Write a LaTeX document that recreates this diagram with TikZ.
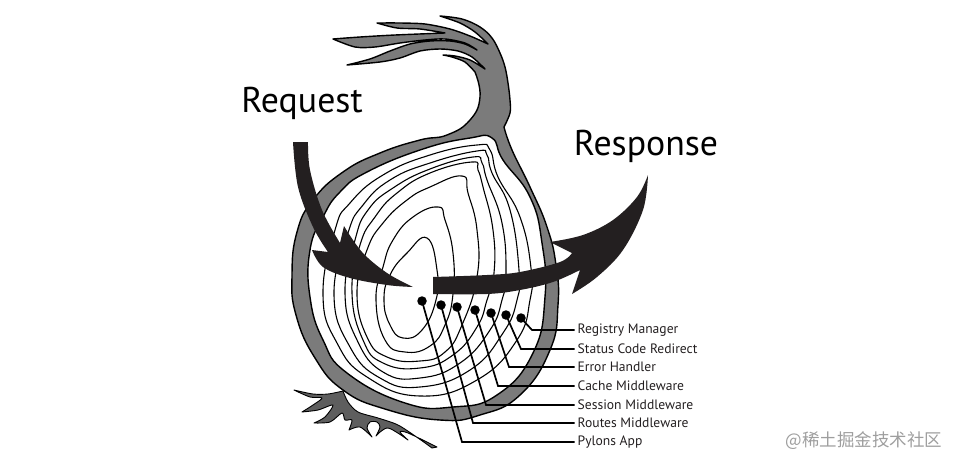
\documentclass[tikz,border=0pt]{standalone}
\usepackage{fontspec}
\setmainfont{PT Sans}
\newfontfamily\cjk{Noto Sans CJK SC}
\definecolor{skin}{HTML}{7B7B7B}
\definecolor{rootskin}{HTML}{5E5E5E}
\definecolor{ink}{HTML}{231F20}
\tikzset{
  outline/.style={draw=black,line width=1.4pt,line join=round},
  ring/.style={draw=black,line width=1.1pt},
  flow/.style={fill=ink,draw=none},
  leader/.style={draw=black,line width=1.7pt,line join=miter},
  dot/.style={circle,fill=black,inner sep=0pt,minimum size=9.5pt},
  lbl/.style={anchor=west,inner sep=0pt,font=\fontsize{13.6}{15}\selectfont,text=ink},
  big/.style={inner sep=0pt,font=\fontsize{35.8}{38}\selectfont,text=black},
}
\begin{document}
\begin{tikzpicture}[x=1pt,y=-1pt]
  \useasboundingbox (0,0) rectangle (959,466);
  % roots
  \draw[outline,fill=rootskin,line width=.9pt]
    plot[smooth,tension=.5] coordinates {(343,391)(328,394)(313,394)(294,390)}
    -- plot[smooth,tension=.5] coordinates {(294,390)(310,397)(322,398)(313,405)(302,412)}
    -- plot[smooth,tension=.5] coordinates {(302,412)(318,410)(333,405)(325,417)(314,423)}
    -- plot[smooth,tension=.5] coordinates {(314,423)(330,422)(342,413)(345,420)(352,420)(349,430)}
    -- plot[smooth,tension=.5] coordinates {(349,430)(360,427)(372,437)}
    -- plot[smooth,tension=.5] coordinates {(372,437)(367,428)(370,422)(377,422)(380,427)(376,436)}
    -- plot[smooth,tension=.5] coordinates {(376,436)(388,428)(408,440)}
    -- plot[smooth,tension=.5] coordinates {(408,440)(400,432)(408,433)(437,447)}
    -- (432,448)
    -- plot[smooth,tension=.5] coordinates {(432,448)(418,438)(398,425)(378,418)(358,412)(348,402)(343,391)}
    -- cycle;
  % skin with stem and tufts
  \draw[outline,fill=skin]
    plot[smooth,tension=.6] coordinates {(440,16)(462,19)(480,27)(492,38)(500,53)(505,67)(508,83)(510,100)(510,113)(504,127)}
    -- plot[smooth,tension=.8] coordinates {(504,127)(512,150)(530,187)(547,227)(556,265)(558,305)(550,350)(520,395)(480,415)(440,420)(385,409)(343,390)(315,358)(296,315)(292,275)(297,232)(313,200)(343,172)(380,153)(420,140)(447,135)(470,120)(480,97)(475,72)}
    -- plot[smooth,tension=.5] coordinates {(475,72)(465,62)(452,57)(443,55)}
    -- plot[smooth,tension=.5] coordinates {(443,55)(455,56)(470,60)(485,69)}
    -- plot[smooth,tension=.5] coordinates {(485,69)(472,57)(458,51)(440,49)(420,51)(400,58)(380,62)(347,65)}
    -- plot[smooth,tension=.5] coordinates {(347,65)(370,59)(390,51)(410,44)(430,41)(450,41)(465,44)(477,50)}
    -- plot[smooth,tension=.5] coordinates {(477,50)(465,43)(445,39)(425,40)(400,43)(375,47)(355,47)(333,39)}
    -- plot[smooth,tension=.5] coordinates {(333,39)(360,37)(395,35)(445,33)}
    -- plot[smooth,tension=.5] coordinates {(445,33)(420,29)(397,28)(377,23)}
    -- plot[smooth,tension=.5] coordinates {(377,23)(400,23)(425,24)(450,29)(470,36)(488,44)}
    -- plot[smooth,tension=.5] coordinates {(488,44)(475,32)(460,23)(440,16)}
    -- cycle;
  % flesh
  \draw[ring,fill=white,line width=1.4pt] plot[smooth cycle,tension=.8] coordinates {(492,138)(503,160)(530,197)(542,243)(545,297)(533,353)(497,395)(453,407)(405,403)(347,373)(323,340)(310,297)(310,250)(323,217)(340,192)(367,172)(423,149)(470,138)};
  % rings
  \draw[ring] plot[smooth cycle,tension=.8] coordinates {(490,150)(498,177)(520,217)(531,268)(530,300)(517,340)(477,380)(420,396)(367,377)(337,343)(323,295)(335,230)(350,203)(383,175)(430,155)(477,145)};
  \draw[ring] plot[smooth cycle,tension=.8] coordinates {(487,155)(492,173)(510,210)(519,270)(517,300)(503,333)(470,370)(420,387)(380,378)(350,347)(334,295)(348,233)(363,205)(390,180)(430,163)(477,151)};
  \draw[ring] plot[smooth cycle,tension=.8] coordinates {(482,163)(487,180)(502,223)(506,273)(502,300)(490,330)(460,363)(420,378)(383,372)(357,340)(345,293)(355,240)(368,210)(393,188)(430,169)(473,157)};
  \draw[ring] plot[smooth cycle,tension=.8] coordinates {(478,170)(483,187)(493,230)(494,273)(487,300)(477,327)(453,355)(420,368)(383,363)(363,340)(352,293)(360,245)(375,217)(397,193)(430,173)(472,162)};
  \draw[ring] plot[smooth cycle,tension=.8] coordinates {(468,193)(477,230)(477,277)(462,325)(445,352)(420,361)(387,357)(367,337)(357,293)(367,250)(383,223)(407,200)(430,187)(462,176)};
  \draw[ring] plot[smooth cycle,tension=.8] coordinates {(438,207)(445,220)(453,253)(453,294)(445,325)(430,346)(405,352)(385,340)(376,300)(383,267)(393,240)(413,217)};
  \draw[ring] plot[smooth cycle,tension=.8] coordinates {(427,238)(437,270)(436,300)(422,330)(403,338)(390,325)(384,300)(390,275)(407,253)};
  % request and response arrows
  \fill[flow] (293,142) -- (308,142)
    -- plot[smooth,tension=.6] coordinates {(308,142)(310,170)(322,210)(340,243)}
    -- (344,226)
    -- plot[smooth,tension=.6] coordinates {(344,226)(362,252)(387,273)(413,287)}
    -- plot[smooth,tension=.6] coordinates {(413,287)(387,285)(350,278)(323,267)(312,250)}
    -- (328,252)
    -- plot[smooth,tension=.6] coordinates {(328,252)(313,227)(298,187)(293,142)}
    -- cycle;
  \fill[flow] (433,277)
    -- plot[smooth,tension=.6] coordinates {(433,277)(487,275)(520,272)(560,262)(572,253)}
    -- (550,242)
    -- plot[smooth,tension=.6] coordinates {(550,242)(583,235)(613,220)(637,197)(648,175)}
    -- plot[smooth,tension=.6] coordinates {(648,175)(643,210)(623,250)(597,277)(572,294)}
    -- (580,270)
    -- plot[smooth,tension=.6] coordinates {(580,270)(553,282)(520,290)(487,294)(433,294)}
    -- cycle;
  \node[big] (request) at (302,103) {Request};
  \node[big] (response) at (646,146) {Response};
  % layer labels
  \foreach \i/\dx/\dy/\ex/\ey/\name in {
      a/422/301/462/442/Pylons App,
      b/441/305/473/423/Routes Middleware,
      c/457/307/486/405/Session Middleware,
      d/475/310/498/386/Cache Middleware,
      e/491/313/509/367/Error Handler,
      f/506/315/521/349/Status Code Redirect,
      g/521/318/532/330/Registry Manager}{
    \node[dot] (dot\i) at (\dx,\dy) {};
    \coordinate (bend\i) at (\ex,\ey);
    \node[lbl] (layer\i) at (577.5,\ey) {\name};
    \draw[leader] (dot\i.center) -- (bend\i) -- ([xshift=-3pt]bend\i -| layer\i.west);
  }
  \node[font=\cjk\fontsize{17.5}{20}\selectfont,text=black!38,inner sep=0pt] (mark) at (864,441) {@稀土掘金技术社区};
\end{tikzpicture}
\end{document}
